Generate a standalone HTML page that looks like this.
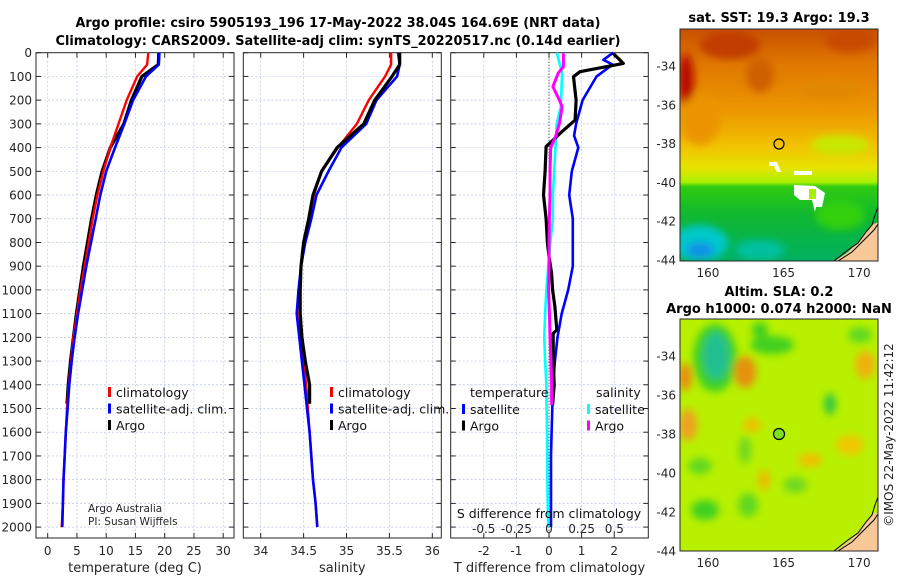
<!DOCTYPE html>
<html><head><meta charset="utf-8">
<style>
html,body{margin:0;padding:0;background:#fff;}
svg{display:block;font-family:"DejaVu Sans","Liberation Sans",sans-serif;}
.tk{font-size:12px;fill:#262626;}
.lg{font-size:12.5px;fill:#111;}
.tt{font-size:13px;font-weight:bold;fill:#000;}
</style></head>
<body>
<svg id="fig" width="900" height="580" viewBox="0 0 900 580" xmlns="http://www.w3.org/2000/svg">
<defs>
<filter id="blur4" x="-20%" y="-20%" width="140%" height="140%"><feGaussianBlur stdDeviation="4"/></filter>
<filter id="blur2"><feGaussianBlur stdDeviation="2"/></filter>
<clipPath id="clipTop"><rect x="680" y="29" width="198" height="232"/></clipPath>
<clipPath id="clipBot"><rect x="680" y="319" width="198" height="232"/></clipPath>
<linearGradient id="sstGrad" x1="0" y1="0" x2="0" y2="1">
<stop offset="0" stop-color="#c85000"/><stop offset="0.15" stop-color="#e07800"/>
<stop offset="0.35" stop-color="#ec9600"/><stop offset="0.5" stop-color="#f2c000"/>
<stop offset="0.6" stop-color="#e6e400"/><stop offset="0.66" stop-color="#a8f000"/>
<stop offset="0.68" stop-color="#30cc10"/><stop offset="0.8" stop-color="#10b830"/>
<stop offset="1" stop-color="#00b060"/>
</linearGradient>
</defs>
<g id="title">
<text class="tt" x="338" y="27" text-anchor="middle" textLength="525" lengthAdjust="spacingAndGlyphs">Argo profile: csiro 5905193_196 17-May-2022 38.04S 164.69E (NRT data)</text>
<text class="tt" x="338" y="45" text-anchor="middle" textLength="565" lengthAdjust="spacingAndGlyphs">Climatology: CARS2009. Satellite-adj clim: synTS_20220517.nc (0.14d earlier)</text>
</g>
<g id="panels"></g>
<g id="maps">
 <g>
  <text class="tt" x="779" y="22" text-anchor="middle">sat. SST: 19.3 Argo: 19.3</text>
  <g clip-path="url(#clipTop)">
   <rect x="680" y="29" width="198" height="232" fill="url(#sstGrad)"/>
   <g filter="url(#blur4)">
    <ellipse cx="686" cy="80" rx="8" ry="26" fill="#b81000"/>
    <ellipse cx="730" cy="45" rx="30" ry="14" fill="#c03c00"/>
    <ellipse cx="760" cy="75" rx="14" ry="18" fill="#d06000"/>
    <ellipse cx="850" cy="40" rx="25" ry="12" fill="#c84800"/>
    <ellipse cx="830" cy="90" rx="30" ry="10" fill="#e08800"/>
    <ellipse cx="700" cy="120" rx="20" ry="25" fill="#ec9400"/>
    <ellipse cx="840" cy="145" rx="30" ry="10" fill="#c8e800"/>
    <ellipse cx="700" cy="243" rx="28" ry="18" fill="#00c8c8"/>
    <ellipse cx="700" cy="250" rx="14" ry="8" fill="#1090e8"/>
    <ellipse cx="760" cy="250" rx="25" ry="10" fill="#00c0a0"/>
    <ellipse cx="840" cy="215" rx="25" ry="15" fill="#30d010"/>
   </g>
   <g fill="#ffffff">
    <polygon points="769,162 777,162 781,172 777,172 774,166 769,166"/>
    <polygon points="794,171 812,171 812,175 794,175"/>
    <polygon points="794,185 815,186 825,193 822,207 816,207 815,212 812,200 800,200 794,195"/>
   </g>
   <rect x="809" y="189" width="7" height="10" fill="#a8f000"/>
   <polygon points="835,261 848,252 862,238 872,225 878,222 878,261" fill="#f8c898"/>
   <path d="M834,261 L848,250 L858,243 L866,232 L872,225 L875,215 L878,207" fill="none" stroke="#000" stroke-width="1"/>
   <path d="M838,261 L852,252 L864,240 L874,230 L878,224" fill="none" stroke="#000" stroke-width="1"/>
   <circle cx="779" cy="144" r="5" fill="none" stroke="#000" stroke-width="1.2"/>
  </g>
  <rect x="680" y="29" width="198" height="232" fill="none" stroke="#262626" stroke-width="1"/>
 </g>
 <g>
  <text class="tt" x="779" y="296" text-anchor="middle">Altim. SLA: 0.2</text>
  <text class="tt" x="779" y="313" text-anchor="middle">Argo h1000: 0.074 h2000: NaN</text>
  <g clip-path="url(#clipBot)">
   <rect x="680" y="319" width="198" height="232" fill="#b8f000"/>
   <g filter="url(#blur4)">
    <ellipse cx="715" cy="358" rx="22" ry="34" fill="#40d020"/>
    <ellipse cx="716" cy="356" rx="13" ry="24" fill="#20c090"/>
    <ellipse cx="685" cy="377" rx="7" ry="14" fill="#e89010"/>
    <ellipse cx="745" cy="372" rx="11" ry="16" fill="#e8900c"/>
    <ellipse cx="772" cy="345" rx="22" ry="9" fill="#40d020"/>
    <ellipse cx="760" cy="330" rx="8" ry="8" fill="#40d020"/>
    <ellipse cx="860" cy="335" rx="12" ry="8" fill="#60d820"/>
    <ellipse cx="865" cy="365" rx="10" ry="14" fill="#f0b010"/>
    <ellipse cx="830" cy="404" rx="6" ry="11" fill="#30c840"/>
    <ellipse cx="688" cy="425" rx="9" ry="16" fill="#f0a020"/>
    <ellipse cx="752" cy="425" rx="9" ry="7" fill="#f0c000"/>
    <ellipse cx="810" cy="460" rx="12" ry="7" fill="#f0c000"/>
    <ellipse cx="764" cy="480" rx="6" ry="10" fill="#f0b800"/>
    <ellipse cx="745" cy="450" rx="6" ry="14" fill="#70d820"/>
    <ellipse cx="700" cy="466" rx="12" ry="8" fill="#60d820"/>
    <ellipse cx="705" cy="510" rx="14" ry="10" fill="#40d020"/>
    <ellipse cx="748" cy="505" rx="10" ry="12" fill="#60d820"/>
    <ellipse cx="795" cy="485" rx="12" ry="8" fill="#70d820"/>
    <ellipse cx="850" cy="445" rx="14" ry="10" fill="#f0c800"/>
   </g>
   <polygon points="835,551 848,542 862,528 872,515 878,512 878,551" fill="#f8c898"/>
   <path d="M834,551 L848,540 L858,533 L866,522 L872,515 L875,505 L878,497" fill="none" stroke="#000" stroke-width="1"/>
   <path d="M838,551 L852,542 L864,530 L874,520 L878,514" fill="none" stroke="#000" stroke-width="1"/>
   <circle cx="779" cy="434" r="5.5" fill="#80e020" stroke="#000" stroke-width="1.2"/>
  </g>
  <rect x="680" y="319" width="198" height="232" fill="none" stroke="#262626" stroke-width="1"/>
 </g>
 <text class="tk" transform="translate(893,435) rotate(-90)" text-anchor="middle">©IMOS 22-May-2022 11:42:12</text>
</g>
</svg>
<script>
// ---------- data ----------
const depths = [0,50,100,200,300,400,500,600,700,800,900,1000,1100,1200,1300,1400,1500,1600,1700,1800,1900,2000];
const argoDepths = [0,50,100,200,300,400,500,600,700,800,900,1000,1100,1200,1300,1400,1480];
const tempClim = [17.2,17.0,15.3,13.5,12.1,10.7,9.5,8.5,7.7,7.0,6.3,5.6,5.0,4.4,4.0,3.6,3.3,3.1,2.9,2.7,2.6,2.4];
const tempSat = [19.1,19.0,16.8,14.6,13.1,11.5,10.0,9.0,8.2,7.4,6.6,5.9,5.2,4.6,4.1,3.7,3.4,3.1,2.9,2.7,2.6,2.5];
const tempArgo = [19.0,18.9,16.1,14.3,13.0,10.7,9.3,8.3,7.5,6.8,6.1,5.5,4.9,4.4,3.9,3.5,3.3];
const salClim = [35.52,35.52,35.45,35.26,35.12,34.90,34.71,34.62,34.56,34.50,34.47,34.46,34.45,34.47,34.50,34.53,34.55,34.57,34.59,34.61,34.64,34.66];
const salSat = [35.60,35.62,35.59,35.35,35.23,34.94,34.79,34.65,34.59,34.52,34.47,34.44,34.42,34.45,34.48,34.51,34.54,34.57,34.59,34.61,34.64,34.66];
const salArgo = [35.62,35.62,35.53,35.33,35.20,34.89,34.71,34.61,34.56,34.50,34.47,34.46,34.46,34.48,34.52,34.57,34.57];
const tdSatDepths = [0,30,50,100,200,300,350,400,500,600,700,800,900,1000,1100,1200,1300,1400,1500,1600,1700,1800,1900,2000];
const tdSat = [1.97,1.67,1.95,1.46,1.03,0.83,0.77,0.90,0.70,0.62,0.73,0.73,0.73,0.59,0.39,0.26,0.18,0.13,0.10,0.08,0.06,0.06,0.06,0.06];
const tdArgoDepths = [3,45,80,101,200,284,340,368,396,500,600,700,800,860,930,1000,1071,1169,1183,1296,1400,1485];
const tdArgo = [1.97,2.28,0.95,0.75,0.83,0.80,0.34,0.13,-0.09,-0.12,-0.17,-0.09,-0.05,0,0.08,0.11,0.18,0.24,0.13,0.13,0.16,0.11];
const sdSatDepths = [0,87,228,299,400,500,600,700,800,900,1000,1100,1200,1300,1400,1500,1600,1700,1800,1900,2000];
const sdSat = [0.06,0.10,0.09,0.06,0.05,0.04,0.03,0.03,0.01,-0.005,-0.02,-0.03,-0.036,-0.03,-0.02,-0.018,-0.015,-0.013,-0.013,-0.01,-0.005];
const sdArgoDepths = [3,59,87,143,200,228,299,354,400,500,600,700,800,900,1000,1100,1200,1300,1400,1485];
const sdArgo = [0.11,0.11,0.07,0.03,0.08,0.10,0.08,0.05,0.013,0.008,0.008,0.003,0,0,-0.003,0.003,0.008,0.015,0.02,0.02];
const depthTicks = [0,100,200,300,400,500,600,700,800,900,1000,1100,1200,1300,1400,1500,1600,1700,1800,1900,2000];
const tempTicks = [0,5,10,15,20,25,30];
const salTicks = [34,34.5,35,35.5,36];
const tdTicks = [-2,-1,0,1,2];
const sdTicks = [-0.5,-0.25,0,0.25,0.5];
const latTicks = [-34,-36,-38,-40,-42,-44];
const lonTicks = [160,165,170];

// ---------- scales ----------
const PT = 52.7, PB = 538;
const yD = d => PT + d * 0.2372;
const xT = t => 47.7 + t * 5.85;
const xS = s => 260.7 + (s - 34) * 85.8;
const xTd = v => 549 + v * 32.6;
const xSd = v => 549 + v * 130.6;
const lonX = lo => 680 + (lo - 158.15) * 15.12;
const latYTop = la => 66 + (-34 - la) * 19.4;
const latYBot = la => 356 + (-34 - la) * 19.5;

const NS = 'http://www.w3.org/2000/svg';
const root = document.getElementById('panels');
function mk(tag, attrs, parent) {
  const e = document.createElementNS(NS, tag);
  for (const k in attrs) e.setAttribute(k, attrs[k]);
  (parent || root).appendChild(e);
  return e;
}
function txt(s, x, y, cls, anchor, parent) {
  const t = mk('text', {x: x, y: y, class: cls, 'text-anchor': anchor || 'middle'}, parent);
  t.textContent = s;
  return t;
}

function panel(name, x0, x1, xs, xticks, xlabels, xlabel, showY) {
  const g = mk('g', {});
  
  
  // grid
  depthTicks.forEach(d => {
    mk('line', {x1: x0, x2: x1, y1: yD(d), y2: yD(d), stroke: '#b8c4e6', 'stroke-width': 0.7, 'stroke-dasharray': '2,2'}, g);
    mk('line', {x1: x0, x2: x0 + 5, y1: yD(d), y2: yD(d), stroke: '#262626', 'stroke-width': 1}, g);
    mk('line', {x1: x1 - 5, x2: x1, y1: yD(d), y2: yD(d), stroke: '#262626', 'stroke-width': 1}, g);
    if (showY) txt(String(d), x0 - 4, yD(d) + 4.5, 'tk', 'end', g);
  });
  xticks.forEach((v, i) => {
    const x = xs(v);
    mk('line', {x1: x, x2: x, y1: PT, y2: PB, stroke: '#b8c4e6', 'stroke-width': 0.7, 'stroke-dasharray': '2,2'}, g);
    mk('line', {x1: x, x2: x, y1: PB - 5, y2: PB, stroke: '#262626', 'stroke-width': 1}, g);
    mk('line', {x1: x, x2: x, y1: PT, y2: PT + 5, stroke: '#262626', 'stroke-width': 1}, g);
    txt(xlabels[i], x, 555, 'tk', 'middle', g);
  });
  mk('rect', {x: x0, y: PT, width: x1 - x0, height: PB - PT, fill: 'none', stroke: '#262626', 'stroke-width': 1}, g);
  const xl = txt(xlabel, (x0 + x1) / 2, 572, 'tk', 'middle', g);
  xl.style.fontSize = '13px';
  return g;
}
function series(g, name, xs, vals, ds, color, w) {
  const pts = vals.map((v, i) => xs(v).toFixed(1) + ',' + yD(ds[i]).toFixed(1)).join(' ');
  const p = mk('polyline', {points: pts, fill: 'none', stroke: color, 'stroke-width': w, 'stroke-linejoin': 'round'}, g);
  
  
}
function legend(g, items, x, y) {
  items.forEach((it, i) => {
    const yy = y + i * 16.5;
    mk('rect', {x: x, y: yy - 10, width: 3, height: 10, fill: it[1]}, g);
    const t = txt(it[0], x + 8, yy, 'lg', 'start', g);
    
    
  });
}

// Panel 1: temperature
const g1 = panel('temperature-panel', 36, 234, xT, tempTicks, tempTicks.map(String), 'temperature (deg C)', true);
series(g1, 'temp-argo-line', xT, tempArgo, argoDepths, '#000', 3.2);
series(g1, 'temp-climatology-line', xT, tempClim, depths, '#ff0000', 2.4);
series(g1, 'temp-satellite-line', xT, tempSat, depths, '#0000ff', 2.6);
legend(g1, [['climatology', '#ff0000', 'climatology'], ['satellite-adj. clim.', '#0000ff', 'satellite'], ['Argo', '#000', 'argo']], 108, 397);
txt('Argo Australia', 88, 512, 'tk', 'start', g1).style.fontSize = '10.5px';
txt('PI: Susan Wijffels', 88, 525, 'tk', 'start', g1).style.fontSize = '10.5px';

// Panel 2: salinity
const g2 = panel('salinity-panel', 243.3, 441.3, xS, salTicks, salTicks.map(String), 'salinity', false);
series(g2, 'sal-climatology-line', xS, salClim, depths, '#ff0000', 2.4);
series(g2, 'sal-satellite-line', xS, salSat, depths, '#0000ff', 2.6);
series(g2, 'sal-argo-line', xS, salArgo, argoDepths, '#000', 3.2);
legend(g2, [['climatology', '#ff0000', 'climatology'], ['satellite-adj. clim.', '#0000ff', 'satellite'], ['Argo', '#000', 'argo']], 330, 397);

// Panel 3: differences
const g3 = panel('difference-panel', 450.7, 648.3, xTd, tdTicks, tdTicks.map(String), 'T difference from climatology', false);
mk('line', {x1: 549, x2: 549, y1: PT, y2: PB, stroke: '#000', 'stroke-width': 0.8, 'stroke-dasharray': '1,2'}, g3);
series(g3, 'tdiff-satellite-line', xTd, tdSat, tdSatDepths, '#0000ff', 2.6);
series(g3, 'sdiff-satellite-line', xSd, sdSat, sdSatDepths, '#00ffff', 2.6);
series(g3, 'tdiff-argo-line', xTd, tdArgo, tdArgoDepths, '#000', 3.2);
series(g3, 'sdiff-argo-line', xSd, sdArgo, sdArgoDepths, '#ff00ff', 3);
txt('temperature', 470, 397, 'lg', 'start', g3);
txt('salinity', 596, 397, 'lg', 'start', g3);
legend(g3, [['satellite', '#0000ff', 'tdiff-satellite'], ['Argo', '#000', 'tdiff-argo']], 462, 414);
legend(g3, [['satellite', '#00ffff', 'sdiff-satellite'], ['Argo', '#ff00ff', 'sdiff-argo']], 587, 414);
txt('S difference from climatology', 549, 518, 'lg', 'middle', g3);
sdTicks.forEach(v => { txt(String(v).replace('-0.', '-0.').replace(/^0\./, '0.'), xSd(v), 533, 'tk', 'middle', g3); });

// Map axes ticks
const mapG = mk('g', {});


latTicks.forEach(la => {
  [[latYTop, 29, 261], [latYBot, 319, 551]].forEach(m => {
    const y = m[0](la);
    mk('line', {x1: 873, x2: 878, y1: y, y2: y, stroke: '#262626'}, mapG);
    mk('line', {x1: 680, x2: 684, y1: y, y2: y, stroke: '#262626'}, mapG);
    txt(String(la), 676, y + 4.5, 'tk', 'end', mapG);
  });
});
lonTicks.forEach(lo => {
  const x = lonX(lo);
  [[29, 261], [319, 551]].forEach(m => {
    mk('line', {x1: x, x2: x, y1: m[1] - 4, y2: m[1], stroke: '#262626'}, mapG);
    mk('line', {x1: x, x2: x, y1: m[0], y2: m[0] + 4, stroke: '#262626'}, mapG);
    txt(String(lo), x, m[1] + 16, 'tk', 'middle', mapG);
  });
});
</script>
</body></html>
